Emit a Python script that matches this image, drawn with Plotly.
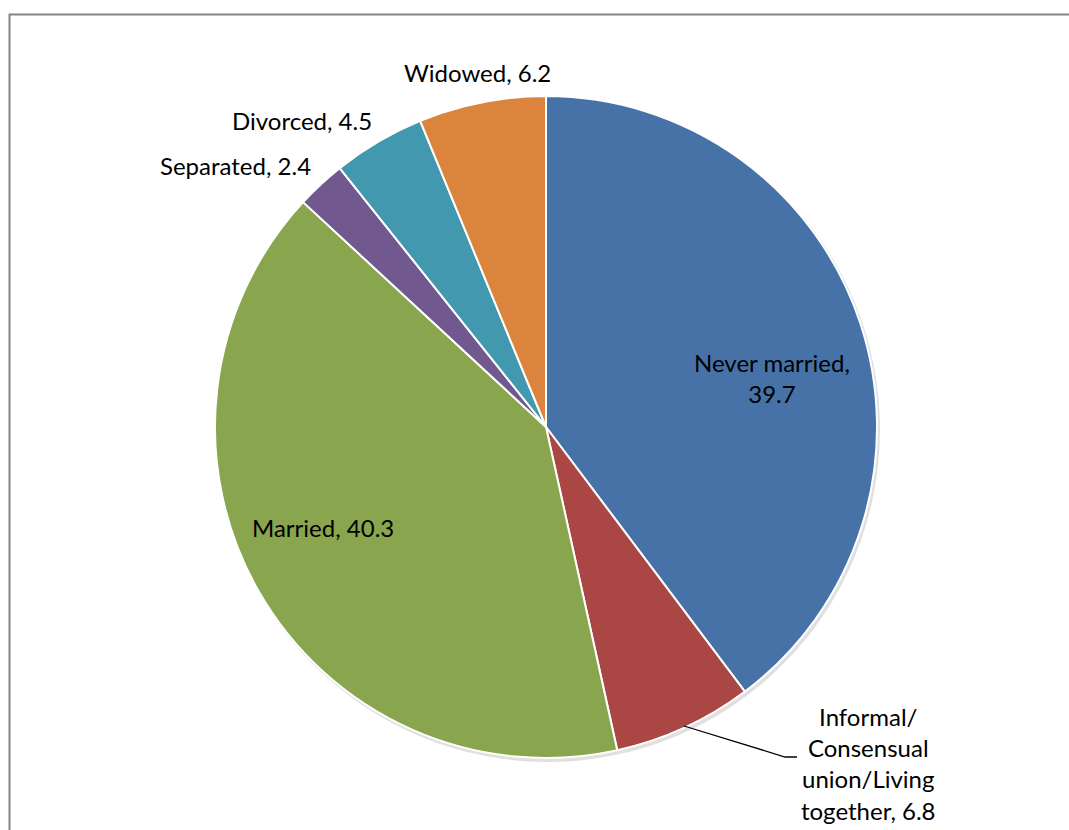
import plotly.graph_objects as go

categories = ["Never married", "Informal/ Consensual union/Living together", "Married",
              "Separated", "Divorced", "Widowed"]
values = [39.7, 6.8, 40.3, 2.4, 4.5, 6.2]
colors = ["#4672A7", "#AA4644", "#89A54E", "#71588F", "#4198AF", "#DB843D"]
label_texts = ["Never married,<br>39.7", "Informal/<br>Consensual<br>union/Living<br>together, 6.8",
               "Married, 40.3", "Separated, 2.4", "Divorced, 4.5", "Widowed, 6.2"]

W, H = 1069, 830
cx, cy, r = 546, 427, 331

def px(x):
    return x / W

def py(y):
    return 1 - y / H

fig = go.Figure()
fig.add_trace(go.Pie(
    labels=categories, values=values, sort=False, direction="clockwise", rotation=0,
    marker=dict(colors=colors, line=dict(color="white", width=2)),
    textinfo="none", hoverinfo="label+value", showlegend=False,
    domain=dict(x=[px(cx - r), px(cx + r)], y=[py(cy + r), py(cy - r)]),
))

# label positions (pixel centres)
label_pos = [(772, 378), (868, 763), (323, 527), (235, 165), (302, 120), (477, 73)]
font = dict(family="Lato, Carlito, sans-serif", size=24, color="#000000")
for t, (x, y) in zip(label_texts, label_pos):
    fig.add_annotation(x=px(x), y=py(y), xref="paper", yref="paper", text=t,
                       showarrow=False, font=font, align="center",
                       xanchor="center", yanchor="middle")

# leader line for Informal slice
fig.add_shape(type="path", xref="paper", yref="paper",
              path=f"M {px(684)},{py(726)} L {px(785)},{py(757)} L {px(797)},{py(757)}",
              line=dict(color="black", width=1.3))

# shadow
fig.add_shape(type="circle", xref="paper", yref="paper", layer="below",
              x0=px(cx - r + 1), x1=px(cx + r + 3), y0=py(cy + r + 4), y1=py(cy - r + 1),
              fillcolor="rgba(0,0,0,0.12)", line=dict(width=0))

# chart frame (runs off the right and bottom edges)
fig.add_shape(type="rect", xref="paper", yref="paper",
              x0=px(9.5), x1=px(1085), y0=py(850), y1=py(14.5),
              line=dict(color="#868686", width=2), fillcolor="rgba(0,0,0,0)")

fig.update_layout(width=W, height=H, margin=dict(l=0, r=0, t=0, b=0),
                  paper_bgcolor="white", plot_bgcolor="white")
fig.write_html("out.html", config={"displayModeBar": False},
               post_script="document.body.style.margin='0';"
                           "document.documentElement.style.overflow='hidden';"
                           "document.body.style.overflow='hidden';")
